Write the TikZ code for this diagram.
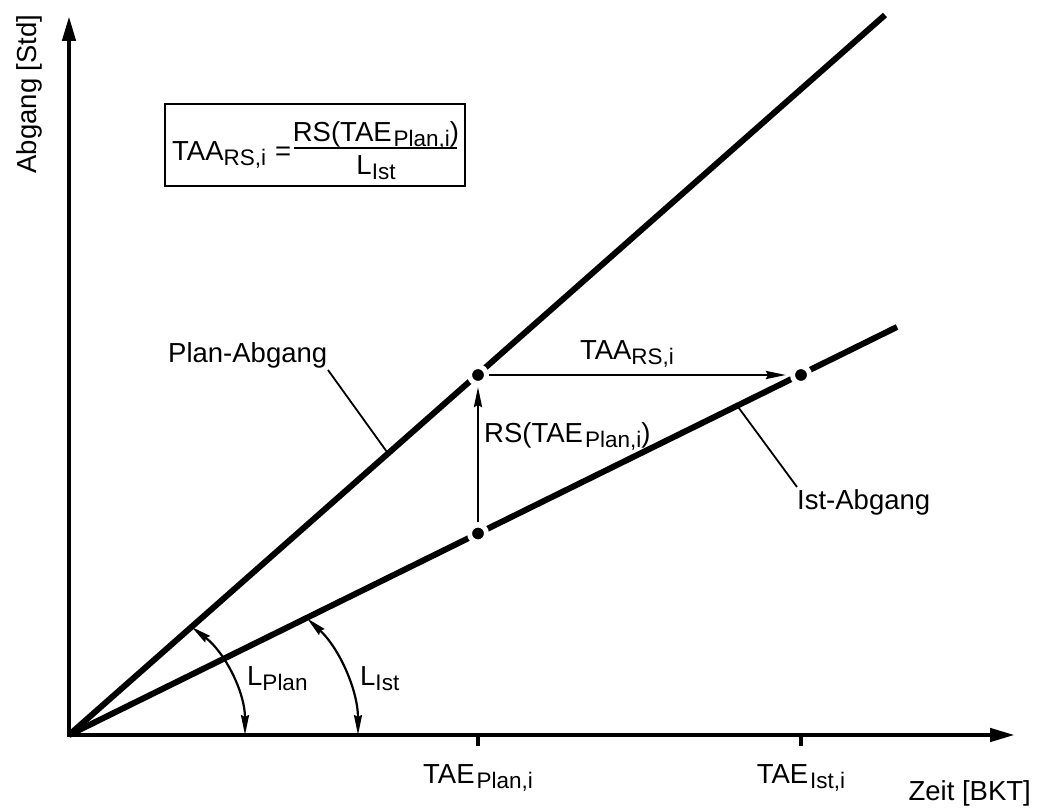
\documentclass[tikz,border=0pt]{standalone}
\usepackage{fontspec}
\setmainfont{Liberation Sans}
\usetikzlibrary{arrows.meta,calc}
% lowered, smaller index text
\newcommand\lo[1]{\raisebox{-5pt}{\fontsize{22.5}{22.5}\selectfont #1}}
\begin{document}
\begin{tikzpicture}[x=1pt,y=1pt,
  every node/.style={font=\fontsize{27.5}{31}\selectfont, inner sep=0pt},
  axis/.style={line width=4.5pt, {Triangle[length=25pt,width=13pt]}-{Triangle[length=25pt,width=13pt]}},
  graphline/.style={line width=6pt},
  thinarrow/.style={line width=2.6pt, -{Stealth[length=20pt,width=8pt,inset=2pt]}},
  anglearrow/.style={line width=2.2pt, {Stealth[length=20pt,width=8pt,inset=2pt]}-{Stealth[length=20pt,width=8pt,inset=2pt]}},
  leader/.style={line width=1.8pt},
  tick/.style={line width=3.5pt},
  dotnode/.style={circle, fill=black, draw=white, line width=5pt, minimum size=17pt, inner sep=0pt},
  formulabox/.style={line width=2.2pt}]
\useasboundingbox (0,0) rectangle (1037,807);

% axes
\coordinate (O) at (69,72);
\coordinate (YT) at (69,791);
\coordinate (XT) at (1015,72);
\draw[axis] (YT) -- (O) -- (XT);

% plan and actual output lines
\coordinate (PE) at (885,792);
\coordinate (IE) at (897,480);
\draw[graphline] (O) -- (PE);
\draw[graphline] (O) -- (IE);

% ticks on the time axis
\coordinate (T1) at (478,72);
\coordinate (T2) at (801,72);
\draw[tick] (T1) -- ++(0,-11);
\draw[tick] (T2) -- ++(0,-11);
\node[anchor=base] (tp) at (478,24) {TAE\kern2pt\lo{Plan,i}};
\node[anchor=base] (ti) at (801,24) {TAE\kern2pt\lo{Ist,i}};

% axis labels
\node[anchor=base, rotate=90] (ylab) at (36,713) {Abgang [Std]};
\node[anchor=base east] (xlab) at (1031,7) {Zeit [BKT]};

% points
\node[dotnode] (pd) at (478,432) {};
\node[dotnode] (id) at (478,273.5) {};
\node[dotnode] (id2) at (801,432) {};

% backlog arrows
\draw[thinarrow, shorten >=1pt] (id) -- (pd);
\draw[thinarrow, shorten >=4pt] (pd) -- (id2);
\node[anchor=base] (taa) at (627,447) {TAA\lo{RS,i}};
\node[anchor=base west] (rs) at (484,364) {RS(TAE\kern2pt\lo{Plan,i})};

% line labels with leaders
\node[anchor=base west] (planlab) at (168,444) {Plan-Abgang};
\coordinate (planpt) at ($(O)!0.391!(PE)$);
\draw[leader] (328,437) coordinate (pl1) -- (planpt);
\node[anchor=base west] (istlab) at (797,297) {Ist-Abgang};
\coordinate (istpt) at ($(O)!0.807!(IE)$);
\draw[leader] (797,320) coordinate (il1) -- (istpt);

% angle arcs
\draw[anglearrow] (109,72) ++(0:136) arc[start angle=0, end angle=52.6, radius=136];
\draw[anglearrow] (199,72) ++(0:159) arc[start angle=0, end angle=47.2, radius=159];
\node[anchor=base west] (lplan) at (247,122) {L\lo{Plan}};
\node[anchor=base west] (list) at (360,122) {L\lo{Ist}};

% formula box
\draw[formulabox] (165,621) rectangle (465,703);
\node[anchor=base west] (fl) at (172,646) {TAA\lo{RS,i}};
\node[anchor=base west] (feq) at (275,646) {=};
\draw[formulabox] (294,659) coordinate (fa) -- (457,659) coordinate (fb);
\node[anchor=base] (fnum) at (376,665) {RS(TAE\kern2pt\lo{Plan,i})};
\node[anchor=base] (fden) at (376,632) {L\lo{Ist}};
\end{tikzpicture}
\end{document}
